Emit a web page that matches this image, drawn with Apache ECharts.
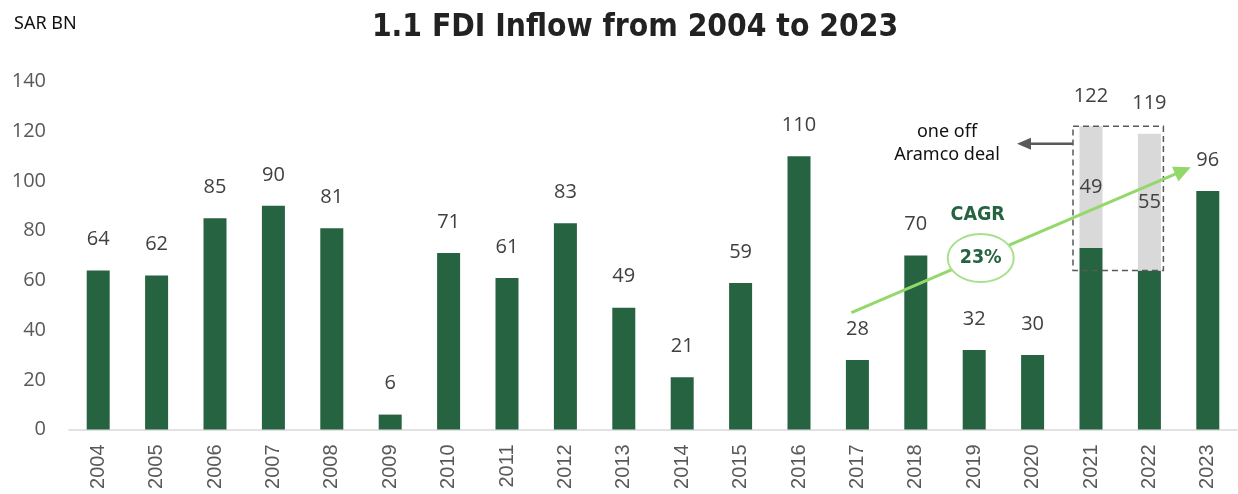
<!DOCTYPE html>
<html>
<head>
<meta charset="utf-8">
<script src="https://cdn.jsdelivr.net/npm/echarts@6/dist/echarts.min.js"></script>
<style>
  html, body { margin: 0; padding: 0; background: #fff; }
  #chart { width: 1238px; height: 494px; }
</style>
</head>
<body>
<div id="chart"></div>
<script>
// FDI inflow, SAR BN
const years = ["2004", "2005", "2006", "2007", "2008", "2009", "2010", "2011", "2012", "2013",
  "2014", "2015", "2016", "2017", "2018", "2019", "2020", "2021", "2022", "2023"];
const fdiCore = [64, 62, 85, 90, 81, 6, 71, 61, 83, 49, 21, 59, 110, 28, 70, 32, 30, 73, 64, 96];
// one off Aramco deal on top of 2021 / 2022
const aramcoOneOff = [null, null, null, null, null, null, null, null, null, null,
  null, null, null, null, null, null, null, 49, 55, null];
const yTicks = [0, 20, 40, 60, 80, 100, 120, 140];
const cagrText = "23%";

const fdiTotal = fdiCore.map((v, i) => v + (aramcoOneOff[i] || 0));
const totalCap = aramcoOneOff.map((v) => (v == null ? null : 0));

const GREEN = "#266340";
const LABEL = {
  fontFamily: "Open Sans",
  fontSize: 20,
  color: "#404040",
};

const chart = echarts.init(document.getElementById("chart"));

chart.setOption({
  animation: false,
  title: [
    {
      text: "1.1 FDI Inflow from 2004 to 2023",
      left: 630,
      top: 7,
      textAlign: "center",
      textStyle: {
        fontFamily: "DejaVu Sans Condensed",
        fontWeight: "bold",
        fontSize: 31.5,
        color: "#222",
      },
    },
    {
      text: "SAR BN",
      left: 9,
      top: 10,
      textStyle: {
        fontFamily: "Noto Sans",
        fontWeight: "normal",
        fontSize: 18,
        color: "#111",
      },
    },
  ],
  grid: { left: 69, right: 1, top: 81.6, bottom: 64.5, containLabel: false },
  xAxis: {
    type: "category",
    data: years,
    axisTick: { show: false },
    axisLine: { lineStyle: { color: "#d9d9d9", width: 1.5 } },
    axisLabel: {
      rotate: 90,
      margin: 15,
      fontFamily: "Liberation Sans",
      fontSize: 20,
      color: "#595959",
    },
  },
  yAxis: {
    type: "value",
    min: yTicks[0],
    max: yTicks[yTicks.length - 1],
    interval: 20,
    splitLine: { show: false },
    axisLine: { show: false },
    axisTick: { show: false },
    axisLabel: {
      margin: 23,
      fontFamily: "Open Sans",
      fontSize: 20,
      color: "#595959",
    },
  },
  series: [
    {
      name: "FDI",
      type: "bar",
      stack: "fdi",
      data: fdiCore,
      barWidth: 23,
      itemStyle: { color: GREEN },
      label: {
        show: true,
        position: "top",
        distance: 21,
        ...LABEL,
        formatter: (p) => (aramcoOneOff[p.dataIndex] == null ? p.value : ""),
      },
    },
    {
      name: "Aramco one off",
      type: "bar",
      stack: "fdi",
      data: aramcoOneOff,
      barWidth: 23,
      itemStyle: { color: "#d9d9d9" },
      label: { show: true, position: "inside", ...LABEL },
    },
    {
      name: "total",
      type: "bar",
      stack: "fdi",
      data: totalCap,
      barWidth: 23,
      itemStyle: { color: "transparent" },
      label: {
        show: true,
        position: "top",
        distance: 20,
        ...LABEL,
        formatter: (p) => fdiTotal[p.dataIndex],
      },
    },
  ],
});

// annotations placed from the chart's own scale
const at = (i, v) => chart.convertToPixel({ gridIndex: 0 }, [i, v]);
const i2017 = years.indexOf("2017");
const i2019 = years.indexOf("2019");
const i2021 = years.indexOf("2021");
const i2022 = years.indexOf("2022");
const i2023 = years.indexOf("2023");

const boxTL = at(i2021, fdiTotal[i2021]);
const boxBR = at(i2022, fdiCore[i2022]);
const boxLeft = boxTL[0] - 18;
const boxRight = boxBR[0] + 14;
const arrowY = at(i2021, 115)[1];

const gStart = at(i2017, 47);
const gEnd = at(i2023, 105.5);
gStart[0] -= 6;
gEnd[0] -= 17;
const ang = Math.atan2(gEnd[1] - gStart[1], gEnd[0] - gStart[0]);
const head = (tip, a, len, w) => [
  tip,
  [tip[0] - len * Math.cos(a) + w * Math.sin(a), tip[1] - len * Math.sin(a) - w * Math.cos(a)],
  [tip[0] - len * Math.cos(a) - w * Math.sin(a), tip[1] - len * Math.sin(a) + w * Math.cos(a)],
];
const gLineEnd = [gEnd[0] - 12 * Math.cos(ang), gEnd[1] - 12 * Math.sin(ang)];

const ell = at(i2019, 69);
ell[0] += 6.5;
const cagrPos = at(i2019, 86.3);
cagrPos[0] += 3.5;

chart.setOption({
  graphic: [
    {
      type: "rect",
      shape: { x: boxLeft, y: boxTL[1], width: boxRight - boxLeft, height: boxBR[1] - boxTL[1] },
      style: { fill: "none", stroke: "#595959", lineWidth: 1.5, lineDash: [6, 4] },
      z: 10,
    },
    {
      type: "line",
      shape: { x1: boxLeft, y1: arrowY, x2: boxLeft - 44, y2: arrowY },
      style: { stroke: "#595959", lineWidth: 2.5 },
      z: 10,
    },
    {
      type: "polygon",
      shape: { points: head([boxLeft - 56, arrowY], Math.PI, 14, 6) },
      style: { fill: "#595959" },
      z: 10,
    },
    {
      type: "text",
      x: boxLeft - 126,
      y: arrowY,
      style: {
        text: "one off\nAramco deal",
        align: "center",
        verticalAlign: "middle",
        fontFamily: "Noto Sans",
        fontSize: 18,
        lineHeight: 23,
        fill: "#111",
      },
      z: 10,
    },
    {
      type: "line",
      shape: { x1: gStart[0], y1: gStart[1], x2: gLineEnd[0], y2: gLineEnd[1] },
      style: { stroke: "#92d86a", lineWidth: 3 },
      z: 11,
    },
    {
      type: "polygon",
      shape: { points: head(gEnd, ang, 17, 8) },
      style: { fill: "#92d86a" },
      z: 11,
    },
    {
      type: "ellipse",
      shape: { cx: ell[0], cy: ell[1], rx: 33, ry: 24 },
      style: { fill: "#fff", stroke: "#a9e08f", lineWidth: 2 },
      z: 12,
    },
    {
      type: "text",
      x: ell[0],
      y: ell[1],
      style: {
        text: cagrText,
        align: "center",
        verticalAlign: "middle",
        fontFamily: "DejaVu Sans Condensed",
        fontWeight: "bold",
        fontSize: 19.5,
        fill: GREEN,
      },
      z: 13,
    },
    {
      type: "text",
      x: cagrPos[0],
      y: cagrPos[1],
      style: {
        text: "CAGR",
        align: "center",
        verticalAlign: "middle",
        fontFamily: "DejaVu Sans Condensed",
        fontWeight: "bold",
        fontSize: 19.5,
        fill: GREEN,
      },
      z: 13,
    },
  ],
});
</script>
</body>
</html>
